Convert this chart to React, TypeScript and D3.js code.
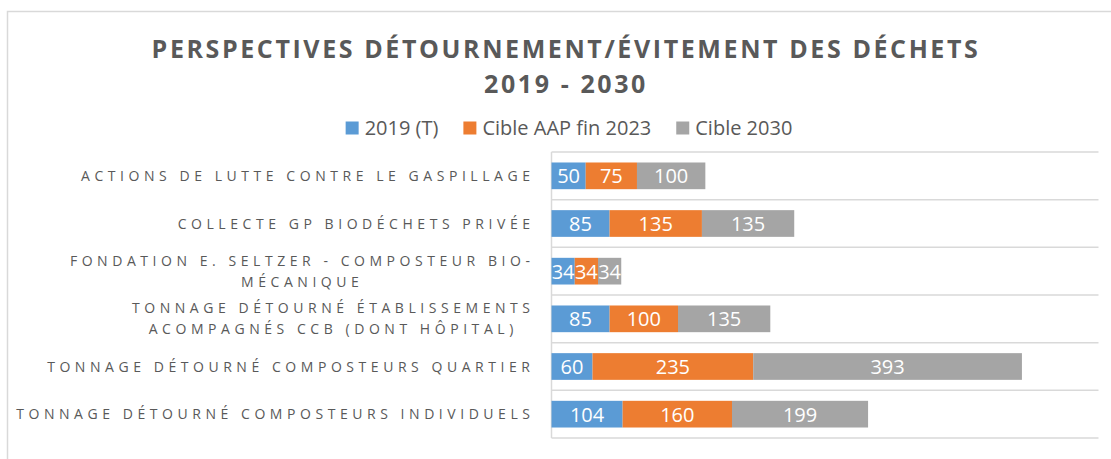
import React, { useEffect, useRef } from "react";
import * as d3 from "d3";

// ---- Data ----
const categories = [
  "ACTIONS DE LUTTE CONTRE LE GASPILLAGE",
  "COLLECTE GP BIODÉCHETS PRIVÉE",
  "FONDATION E. SELTZER - COMPOSTEUR BIO-MÉCANIQUE",
  "TONNAGE DÉTOURNÉ ÉTABLISSEMENTS ACOMPAGNÉS CCB (DONT HÔPITAL)",
  "TONNAGE DÉTOURNÉ COMPOSTEURS QUARTIER",
  "TONNAGE DÉTOURNÉ COMPOSTEURS INDIVIDUELS",
];
const categoryLines = [
  ["ACTIONS DE LUTTE CONTRE LE GASPILLAGE"],
  ["COLLECTE GP BIODÉCHETS PRIVÉE"],
  ["FONDATION E. SELTZER - COMPOSTEUR BIO-", "MÉCANIQUE"],
  ["TONNAGE DÉTOURNÉ ÉTABLISSEMENTS", "ACOMPAGNÉS CCB (DONT HÔPITAL)"],
  ["TONNAGE DÉTOURNÉ COMPOSTEURS QUARTIER"],
  ["TONNAGE DÉTOURNÉ COMPOSTEURS INDIVIDUELS"],
];
const series2019 = [50, 85, 34, 85, 60, 104];
const seriesAAP2023 = [75, 135, 34, 100, 235, 160];
const series2030 = [100, 135, 34, 135, 393, 199];
const seriesNames = ["2019 (T)", "Cible AAP fin 2023", "Cible 2030"];
const seriesColors = ["#5B9BD5", "#ED7D31", "#A5A5A5"];
const titleLines = ["PERSPECTIVES DÉTOURNEMENT/ÉVITEMENT DES DÉCHETS", "2019 - 2030"];
const xMax = 800;

const W = 1111;
const H = 459;
const FONT = "'Open Sans', sans-serif";
const TEXT_COLOR = "#595959";
const GRID = "#D9D9D9";

const plot = { left: 551.5, right: 1098.5, top: 152, bottom: 438 };
const labelRight = 530;
const catLetterSpacing = 4.55;

export default function App() {
  const svgRef = useRef<SVGSVGElement>(null);

  const rows = categories.map((c, i) => ({
    cat: c,
    s0: series2019[i],
    s1: seriesAAP2023[i],
    s2: series2030[i],
  }));
  const keys = ["s0", "s1", "s2"];
  const stacked = d3.stack<any>().keys(keys)(rows);

  const x = d3.scaleLinear().domain([0, xMax]).range([plot.left, plot.right]);
  const y = d3
    .scaleBand<string>()
    .domain(categories)
    .range([plot.top, plot.bottom])
    .paddingInner(0.44)
    .paddingOuter(0.22);
  const step = y.step();
  const boundaries = d3.range(categories.length + 1).map((i) => plot.top + i * step);

  useEffect(() => {
    const svg = d3.select(svgRef.current);
    // category labels: block right-aligned, lines centered within block
    svg.selectAll<SVGGElement, unknown>("g.cat").each(function () {
      const texts = d3.select(this).selectAll<SVGTextElement, unknown>("text").nodes();
      const widths = texts.map((t) => t.getComputedTextLength());
      const maxW = Math.max(...widths);
      const cx = labelRight + catLetterSpacing - maxW / 2;
      texts.forEach((t) => {
        t.setAttribute("x", String(cx));
        t.setAttribute("text-anchor", "middle");
      });
    });
    // legend layout
    const items = svg.selectAll<SVGGElement, unknown>("g.legend-item").nodes();
    const sq = 13;
    const gapSqText = 6;
    const gapItems = 25;
    const tw = items.map((g) => (g.querySelector("text") as SVGTextElement).getComputedTextLength());
    const total = tw.reduce((a, w) => a + sq + gapSqText + w, 0) + gapItems * (items.length - 1);
    let cur = 569 - total / 2;
    items.forEach((g, i) => {
      g.setAttribute("transform", `translate(${cur},0)`);
      cur += sq + gapSqText + tw[i] + gapItems;
    });
  }, []);

  return (
    <svg
      ref={svgRef}
      width={W}
      height={H}
      style={{ position: "absolute", left: 0, top: 0, background: "#fff", overflow: "hidden" }}
    >
      <rect x={7.5} y={11.5} width={1300} height={600} fill="#fff" stroke={GRID} strokeWidth={1.5} />

      {/* Title */}
      {titleLines.map((t, i) => (
        <text
          key={i}
          x={566}
          y={58 + i * 35}
          textAnchor="middle"
          fontFamily={FONT}
          fontWeight={700}
          fontSize={25}
          letterSpacing={2.6}
          fill={TEXT_COLOR}
        >
          {t}
        </text>
      ))}

      {/* Legend */}
      {seriesNames.map((n, i) => (
        <g className="legend-item" key={n}>
          <rect x={0} y={121.5} width={13} height={13} fill={seriesColors[i]} />
          <text x={19} y={134.5} fontFamily={FONT} fontSize={20} fill={TEXT_COLOR}>
            {n}
          </text>
        </g>
      ))}

      {/* Grid lines (category boundaries) */}
      {boundaries.map((b, i) => (
        <line key={i} x1={plot.left} x2={plot.right} y1={b} y2={b} stroke={GRID} strokeWidth={1.5} />
      ))}
      <line x1={plot.left} x2={plot.left} y1={plot.top} y2={plot.bottom} stroke={GRID} strokeWidth={1.5} />

      {/* Bars */}
      {stacked.map((layer, si) => (
        <g key={layer.key} fill={seriesColors[si]}>
          {layer.map((d, ci) => (
            <rect
              key={ci}
              x={x(d[0])}
              y={y(d.data.cat)}
              width={x(d[1]) - x(d[0])}
              height={y.bandwidth()}
            />
          ))}
        </g>
      ))}

      {/* Data labels */}
      {stacked.map((layer) => (
        <g key={layer.key + "-lbl"}>
          {layer.map((d, ci) => (
            <text
              key={ci}
              x={(x(d[0]) + x(d[1])) / 2}
              y={(y(d.data.cat) as number) + y.bandwidth() / 2 + 7.5}
              textAnchor="middle"
              fontFamily={FONT}
              fontSize={20}
              fill="#fff"
            >
              {d[1] - d[0]}
            </text>
          ))}
        </g>
      ))}

      {/* Category labels */}
      {categories.map((c, i) => {
        const lines = categoryLines[i];
        const cy = (y(c) as number) + y.bandwidth() / 2;
        const lh = 21;
        return (
          <g className="cat" key={c}>
            {lines.map((l, li) => (
              <text
                key={li}
                x={labelRight}
                y={cy + 5 + (li - (lines.length - 1) / 2) * lh}
                textAnchor="end"
                fontFamily={FONT}
                fontSize={14}
                letterSpacing={catLetterSpacing}
                fill={TEXT_COLOR}
              >
                {l}
              </text>
            ))}
          </g>
        );
      })}
    </svg>
  );
}
